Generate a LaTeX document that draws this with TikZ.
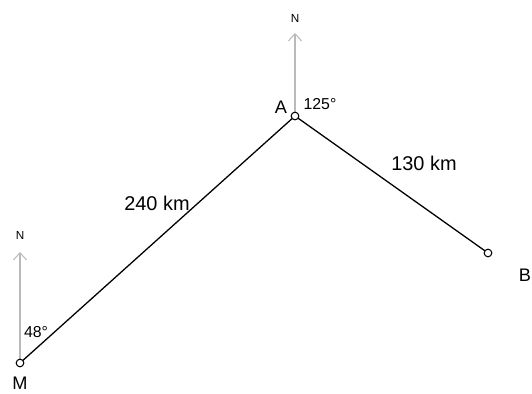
\documentclass[tikz,border=0pt]{standalone}
\usepackage{fontspec}
\setmainfont{Liberation Sans}
\usetikzlibrary{arrows.meta}

\begin{document}
\begin{tikzpicture}[
  x=0.03cm, y=-0.03cm,
  point/.style={draw, circle, fill=white, inner sep=0pt, minimum size=6.5pt, line width=0.9pt},
  north/.style={draw=black!27, line width=0.9pt, -{Straight Barb[length=6pt,width=11pt]}},
  label/.style={font=\fontsize{15.5}{17}\selectfont, inner sep=1pt},
  angle/.style={font=\fontsize{13.5}{15}\selectfont, inner sep=1pt},
  dist/.style={font=\fontsize{17}{19}\selectfont, inner sep=1pt},
  nlabel/.style={font=\fontsize{10}{12}\selectfont, inner sep=1pt}
]
  \useasboundingbox (0,0) rectangle (532,394);

  \coordinate (Mpos) at (20,363);
  \coordinate (Apos) at (295,116);
  \coordinate (Bpos) at (488,253);

  % north arrows
  \coordinate (Mtip) at (20,252);
  \coordinate (Atip) at (295,33);
  \draw[north] (Mpos) -- (Mtip);
  \draw[north] (Apos) -- (Atip);
  \node[nlabel] (nM) at (20,235) {N};
  \node[nlabel] (nA) at (295,18) {N};

  % path
  \draw[line width=1.1pt] (Mpos) -- (Apos) -- (Bpos);

  \node[point] (M) at (Mpos) {};
  \node[point] (A) at (Apos) {};
  \node[point] (B) at (Bpos) {};

  \node[label] (lM) at (20,383) {M};
  \node[label] (lA) at (281,107) {A};
  \node[label] (lB) at (525,275) {B};
  \node[angle] (angM) at (36,332) {48°};
  \node[angle] (angA) at (320,104) {125°};
  \node[dist] (dMA) at (157,203) {240 km};
  \node[dist] (dAB) at (424,163) {130 km};
\end{tikzpicture}
\end{document}
